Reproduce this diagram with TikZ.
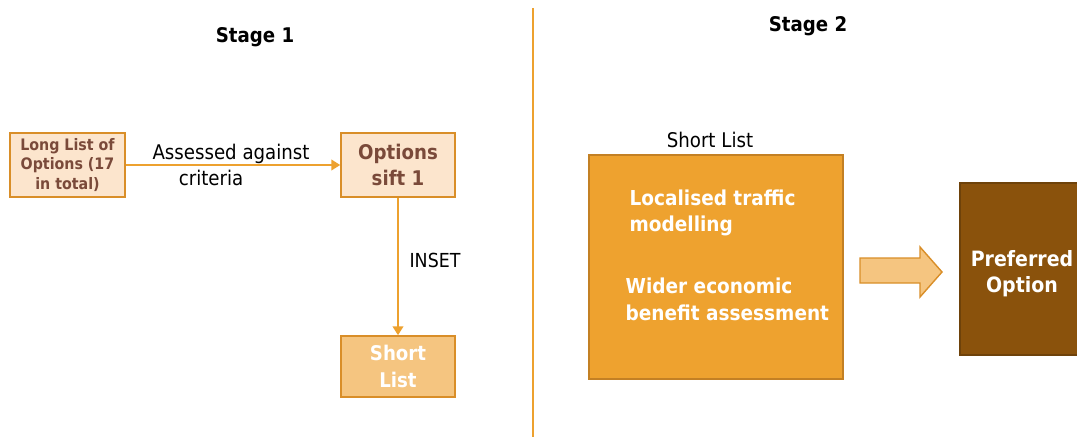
\documentclass[tikz,border=0pt]{standalone}
\usepackage{fontspec}
\setmainfont{DejaVu Sans Condensed}
\usetikzlibrary{arrows.meta}
\definecolor{lineorange}{HTML}{EDA12F}
\definecolor{paleorange}{HTML}{FCE5CD}
\definecolor{midorange}{HTML}{F5C580}
\definecolor{deeporange}{HTML}{EEA22F}
\definecolor{edgeorange}{HTML}{D98E28}
\definecolor{boxbrown}{HTML}{8A520C}
\definecolor{textbrown}{HTML}{7A4A3A}
\tikzset{
  palebox/.style={draw=edgeorange, fill=paleorange, line width=0.9pt, text=textbrown,
    font=\bfseries, align=center, inner sep=0pt},
  link/.style={draw=lineorange, line width=1pt, -{Triangle[length=5pt,width=6pt]}},
  stagelabel/.style={font=\bfseries\fontsize{11.5}{13}\selectfont}
}
\begin{document}
\begin{tikzpicture}[x=0.02cm,y=-0.02cm]
\useasboundingbox (0,0) rectangle (1077,439);
\clip (0,0) rectangle (1077,439);

\node (S1) at (255,37) [stagelabel] {Stage 1};
\node (S2) at (808,26) [stagelabel] {Stage 2};
\draw[lineorange, line width=0.8pt] (533,8) -- (533,437);

% stage 1
\node (A) at (67.5,165) [palebox, minimum width=2.3cm, minimum height=1.28cm,
  font=\bfseries\fontsize{9}{11}\selectfont] {Long List of\\Options (17\\in total)};
\node (B) at (398,165) [palebox, minimum width=2.28cm, minimum height=1.28cm,
  font=\bfseries\fontsize{11.5}{15}\selectfont] {Options\\sift 1};
\node (C) at (398,366.5) [palebox, fill=midorange, text=white, minimum width=2.28cm,
  minimum height=1.22cm, font=\bfseries\fontsize{11.5}{15}\selectfont] {Short\\List};
\draw[link] (A) -- (B);
\draw[link] (B) -- (C);
\node (D) at (231,165) [align=left, font=\fontsize{11.5}{15}\selectfont]
  {Assessed against\\\hspace*{1.3em}criteria};
\node (E) at (435,260) [font=\fontsize{11}{12}\selectfont] {INSET};

% stage 2
\node (F) at (710,140) [font=\fontsize{11.5}{12}\selectfont] {Short List};
\node (G) at (716,267) [draw=edgeorange!90!black, fill=deeporange, line width=0.8pt,
  minimum width=5.08cm, minimum height=4.48cm] {};
\node (H) at ([xshift=0.82cm,yshift=-0.7cm]G.north west) [anchor=north west, align=left,
  text=white, inner sep=0pt, font=\bfseries\fontsize{11.7}{15}\selectfont]
  {Localised traffic\\modelling};
\node (I) at ([xshift=0.74cm,yshift=-2.47cm]G.north west) [anchor=north west, align=left,
  text=white, inner sep=0pt, font=\bfseries\fontsize{11.7}{15}\selectfont]
  {Wider economic\\benefit assessment};
\node (J) at (1022,269) [draw=boxbrown!80!black, fill=boxbrown, line width=0.8pt,
  minimum width=2.48cm, minimum height=3.44cm] {};
\node (K) at ([yshift=-2.5pt]J.center) [text=white, align=center,
  font=\bfseries\fontsize{12}{14.7}\selectfont] {Preferred\\Option};
\draw[edgeorange, fill=midorange, line width=0.8pt]
  (860,258) -- (920,258) -- (920,247) -- (942,272) -- (920,297) -- (920,283)
  -- (860,283) -- cycle;
\end{tikzpicture}
\end{document}
